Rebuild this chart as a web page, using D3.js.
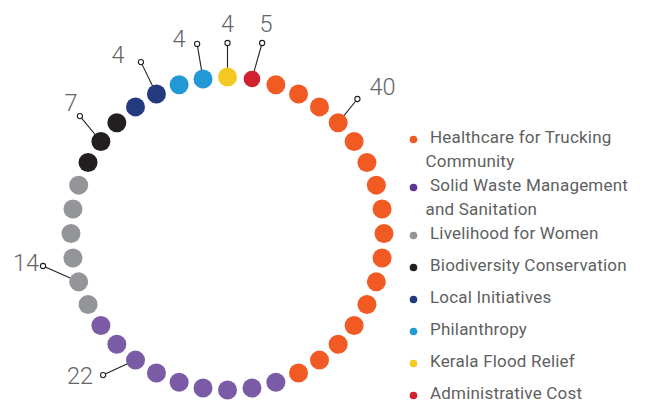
<!DOCTYPE html>
<html>
<head>
<meta charset="utf-8">
<script src="https://cdn.jsdelivr.net/npm/d3@7/dist/d3.min.js"></script>
<style>
  html, body { margin: 0; padding: 0; background: #fff; }
  svg { display: block; }
  text { font-family: Roboto, "Open Sans", sans-serif; }
</style>
</head>
<body>
<svg id="chart" width="645" height="403"></svg>
<script>
// Spending split, in percent, and the number of dots each category gets on the ring
const categories = [
  "Healthcare for Trucking Community",
  "Solid Waste Management and Sanitation",
  "Livelihood for Women",
  "Biodiversity Conservation",
  "Local Initiatives",
  "Philanthropy",
  "Kerala Flood Relief",
  "Administrative Cost"
];
const shares = [40, 22, 14, 7, 4, 4, 4, 5];
const dotCounts = [16, 9, 6, 3, 2, 2, 1, 1];
// Order of the categories around the ring, clockwise from 12 o'clock
const ringOrder = [6, 7, 0, 1, 2, 3, 4, 5];
// Legend lines (where long names wrap)
const legendLines = [
  ["Healthcare for Trucking", "Community"],
  ["Solid Waste Management", "and Sanitation"],
  ["Livelihood for Women"],
  ["Biodiversity Conservation"],
  ["Local Initiatives"],
  ["Philanthropy"],
  ["Kerala Flood Relief"],
  ["Administrative Cost"]
];

// Styling and layout
const dotColors = ["#F15A22", "#7B5AA6", "#939598", "#231F20", "#243A7E", "#2299D5", "#F5C924", "#D1202F"];
const bulletColors = ["#F15A22", "#5C3594", "#939598", "#231F20", "#243A7E", "#2299D5", "#F5C924", "#D1202F"];
const dotRadius = [9.5, 9.5, 9.5, 9.5, 9.5, 9.5, 9.5, 8.3];
// callout: which dot of the category it points to, angle/radius of the ring marker,
// and label offset from the marker
const callouts = [
  { dot: 3, ang: 44, rad: 187, dx: 12, dy: -4, anchor: "start" },
  { dot: 6, ang: 221.3, rad: 188.5, dx: -10, dy: 9, anchor: "end" },
  { dot: 1, ang: 260, rad: 187.3, dx: -4, dy: 5, anchor: "end" },
  { dot: 1, ang: 308.5, rad: 188.6, dx: -9, dy: -5, anchor: "middle" },
  { dot: 1, ang: 333.2, rad: 192, dx: -23, dy: 1, anchor: "middle" },
  { dot: 1, ang: 350.9, rad: 192, dx: -18, dy: 3, anchor: "middle" },
  { dot: 0, ang: 0, rad: 190.5, dx: 0, dy: -11, anchor: "middle" },
  { dot: 0, ang: 10.3, rad: 193.6, dx: 4, dy: -11, anchor: "middle" }
];

const cx = 227.5, cy = 233.5, ringR = 156.5;
const svg = d3.select("#chart");

// Build the dot list in ring order
const dots = [];
ringOrder.forEach(ci => {
  d3.range(dotCounts[ci]).forEach(k => dots.push({ cat: ci, k }));
});
dots.forEach((d, i) => { d.i = i; });

const angle = d3.scaleLinear().domain([0, dots.length]).range([0, 360]);
const toRad = a => a * Math.PI / 180;
const polar = (a, r) => [cx + r * Math.sin(toRad(a)), cy - r * Math.cos(toRad(a))];

dots.forEach(d => {
  const p = polar(angle(d.i), ringR);
  d.x = p[0]; d.y = p[1];
});

// Callout geometry
const calloutData = categories.map((name, ci) => {
  const c = callouts[ci];
  const target = dots.find(d => d.cat === ci && d.k === c.dot);
  const m = polar(c.ang, c.rad);
  return { ci, value: shares[ci], tx: target.x, ty: target.y, mx: m[0], my: m[1], c };
});

const gC = svg.append("g");
gC.selectAll("line").data(calloutData).join("line")
  .attr("x1", d => d.mx).attr("y1", d => d.my)
  .attr("x2", d => d.tx).attr("y2", d => d.ty)
  .attr("stroke", "#231F20").attr("stroke-width", 1.1);

svg.append("g").selectAll("circle").data(dots).join("circle")
  .attr("cx", d => d.x).attr("cy", d => d.y)
  .attr("r", d => dotRadius[d.cat])
  .attr("fill", d => dotColors[d.cat]);

gC.append("g").selectAll("circle").data(calloutData).join("circle")
  .attr("cx", d => d.mx).attr("cy", d => d.my).attr("r", 2.6)
  .attr("fill", "#fff").attr("stroke", "#231F20").attr("stroke-width", 1.1);

svg.append("g").selectAll("text").data(calloutData).join("text")
  .attr("x", d => d.mx + d.c.dx).attr("y", d => d.my + d.c.dy)
  .attr("text-anchor", d => d.c.anchor)
  .attr("font-size", 23.5).attr("font-weight", 300)
  .attr("fill", "#636466")
  .text(d => d.value);

// Legend
const legend = svg.append("g");
let ly = 143;
categories.forEach((name, ci) => {
  const lines = legendLines[ci];
  legend.append("circle")
    .attr("cx", 413.5).attr("cy", ly - 3.5).attr("r", 3.8)
    .attr("fill", bulletColors[ci]);
  lines.forEach((ln, j) => {
    legend.append("text")
      .attr("x", j === 0 ? 430 : 425.5).attr("y", ly)
      .attr("font-size", 17).attr("letter-spacing", 0.2)
      .attr("fill", "#5E5F61")
      .text(ln);
    ly += 24;
  });
  if (lines.length === 1) ly += 8;
});
</script>
</body>
</html>
